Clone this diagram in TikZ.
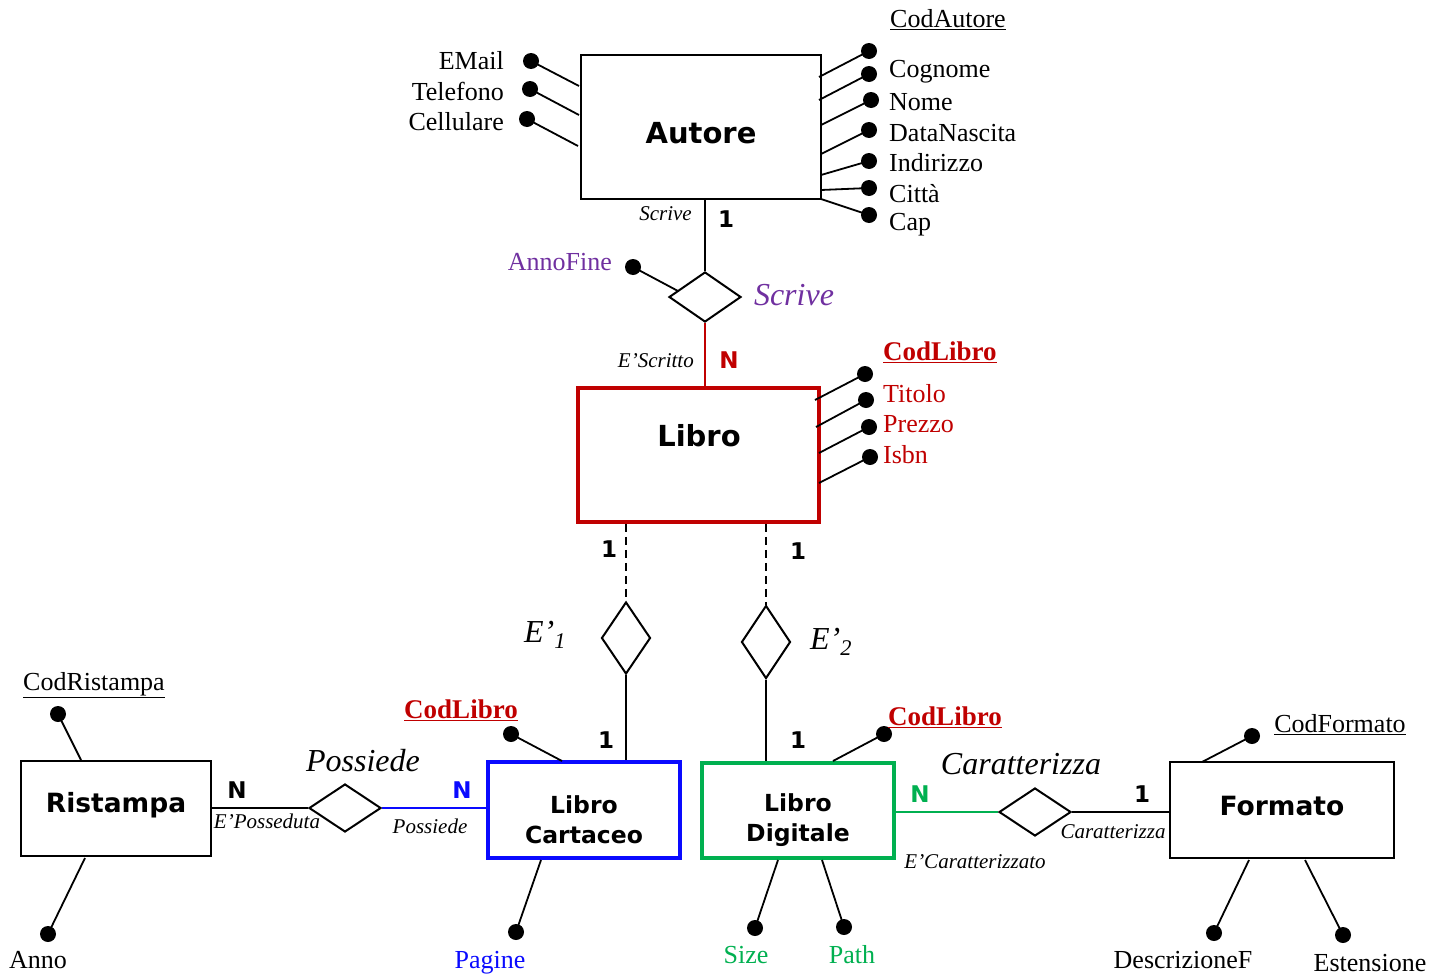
\documentclass[tikz,border=0pt]{standalone}
\usepackage{fontspec}
\setmainfont{Liberation Serif}
\newfontfamily\sansb{DejaVu Sans}
\usetikzlibrary{shapes.geometric}
\definecolor{cred}{HTML}{C00000}
\definecolor{cblue}{HTML}{0A0AFF}
\definecolor{cgreen}{HTML}{00B050}
\definecolor{cpurple}{HTML}{7030A0}
\tikzset{
 ln/.style={line width=1.8pt},
 dot/.style={circle,fill=black,inner sep=0pt,minimum size=16pt},
 ent/.style={draw,line width=2pt,inner sep=0pt},
 rel/.style={diamond,draw,line width=2pt,inner sep=0pt},
 attr/.style={font=\fontsize{26}{26}\selectfont,inner sep=0pt},
 keyred/.style={font=\bfseries\fontsize{27}{27}\selectfont,inner sep=0pt,cred},
 card/.style={font=\sansb\bfseries\fontsize{23}{23}\selectfont,inner sep=0pt},
 role/.style={font=\itshape\fontsize{21}{21}\selectfont,inner sep=0pt},
 relname/.style={font=\itshape\fontsize{32}{32}\selectfont,inner sep=0pt},
 entname/.style={font=\sansb\bfseries\fontsize{29}{31}\selectfont,inner sep=0pt,align=center},
 entname3/.style={font=\sansb\bfseries\fontsize{26.5}{30}\selectfont,inner sep=0pt,align=center},
 entname2/.style={font=\sansb\bfseries\fontsize{23.5}{30}\selectfont,inner sep=0pt,align=center},
}
\begin{document}
\begin{tikzpicture}[x=1pt,y=-1pt]
\useasboundingbox (0,0) rectangle (1443,977);
% ---------- entities ----------
\node[ent,minimum width=240pt,minimum height=144pt] (autore) at (701,127) {};
\node[entname] (autoreL) at (701,133) {Autore};
\node[ent,draw=cred,line width=3.5pt,minimum width=241pt,minimum height=134pt] (libro) at (698.5,455) {};
\node[entname] (libroL) at (699,436) {Libro};
\node[ent,draw=cblue,line width=3.5pt,minimum width=192pt,minimum height=96pt] (cart) at (584,810) {};
\node[entname2] (cartL) at (584,820) {Libro\\Cartaceo};
\node[ent,draw=cgreen,line width=3.5pt,minimum width=192pt,minimum height=95pt] (dig) at (798,810.5) {};
\node[entname2] (digL) at (798,820) {Libro\\Digitale};
\node[ent,minimum width=190pt,minimum height=95pt] (rist) at (116,808.5) {};
\node[entname3] (ristL) at (116,805) {Ristampa};
\node[ent,minimum width=224pt,minimum height=96pt] (form) at (1282,810) {};
\node[entname3] (formL) at (1282,806) {Formato};
% ---------- relationships ----------
\node[rel,minimum width=72pt,minimum height=50pt] (scr) at (705,297) {};
\node[rel,minimum width=49pt,minimum height=72pt] (e1) at (626,638) {};
\node[rel,minimum width=49pt,minimum height=73pt] (e2) at (766,642) {};
\node[rel,minimum width=72pt,minimum height=48pt] (poss) at (345,808) {};
\node[rel,minimum width=72pt,minimum height=48pt] (car) at (1035,812) {};
% ---------- connectors ----------
\draw[ln] (scr.north |- autore.south) -- (scr.north);
\draw[ln,cred] (scr.south) -- (scr.south |- libro.north);
\draw[ln,dashed,dash pattern=on 8pt off 5pt] (e1.north |- libro.south) -- (e1.north);
\draw[ln] (e1.south) -- (e1.south |- cart.north);
\draw[ln,dashed,dash pattern=on 8pt off 5pt] (e2.north |- libro.south) -- (e2.north);
\draw[ln] (e2.south) -- (e2.south |- dig.north);
\draw[ln] (poss.west -| rist.east) -- (poss.west);
\draw[ln,cblue] (poss.east) -- (poss.east -| cart.west);
\draw[ln,cgreen] (car.west -| dig.east) -- (car.west);
\draw[ln] (car.east) -- (car.east -| form.west);
% ---------- attribute dots and links ----------
\foreach \n/\dx/\dy/\ex/\ey in {aEm/531/61/579/86, aTe/530/89/579/115, aCe/527/119/578/146,
  aCo/869/51/819/77, aCg/869/74/819/100, aNo/871/100/821/125, aDN/869/130/821/154,
  aIn/869/161/821/175, aCi/869/188/821/190, aCa/869/215/821/199,
  aAF/633/267/678/291,
  lCo/865/374/815/400, lTi/866/400/816/427, lPr/869/427/819/453, lIs/870/457/819/483,
  cCo/511/734/562/761, cPa/516/932/541/860,
  dCo/884/734/833/761, dSi/755/928/778/860, dPa/844/927/822/860,
  rCo/58/714/81/760, rAn/48/934/85/858,
  fCo/1252/736/1202/762, fDe/1214/933/1249/860, fEs/1343/935/1305/860}
{
  \node[dot] (\n) at (\dx,\dy) {};
  \coordinate (\n e) at (\ex,\ey);
  \draw[ln] (\n.center) -- (\n e);
}
% ---------- attribute labels ----------
\node[attr,anchor=east] (tEm) at (504,61) {EMail};
\node[attr,anchor=east] (tTe) at (504,91) {Telefono};
\node[attr,anchor=east] (tCe) at (504,122) {Cellulare};
\node[attr,anchor=west] (tCo) at (890,20) {\underline{CodAutore}};
\node[attr,anchor=west] (tCg) at (889,72) {Cognome};
\node[attr,anchor=west] (tNo) at (889,102) {Nome};
\node[attr,anchor=west] (tDN) at (889,133) {DataNascita};
\node[attr,anchor=west] (tIn) at (889,163) {Indirizzo};
\node[attr,anchor=west] (tCi) at (889,194) {Città};
\node[attr,anchor=west] (tCa) at (889,225) {Cap};
\node[attr,anchor=east,cpurple] (tAF) at (612,262) {AnnoFine};
\node[keyred,anchor=west] (tLC) at (883,352) {\underline{CodLibro}};
\node[attr,anchor=west,cred] (tTi) at (883,394) {Titolo};
\node[attr,anchor=west,cred] (tPr) at (883,424) {Prezzo};
\node[attr,anchor=west,cred] (tIs) at (883,455) {Isbn};
\node[keyred] (tCC) at (461,710) {\underline{CodLibro}};
\node[attr,cblue] (tPa) at (490,963) {Pagine};
\node[keyred] (tDC) at (945,717) {\underline{CodLibro}};
\node[attr,cgreen] (tSi) at (746,955) {Size};
\node[attr,cgreen] (tPh) at (852,955) {Path};
\node[attr] (tRC) at (94,685) {\underline{CodRistampa}};
\node[attr] (tAn) at (38,960) {Anno};
\node[attr] (tFC) at (1340,725) {\underline{CodFormato}};
\node[attr] (tDe) at (1183,960) {DescrizioneF};
\node[attr] (tEs) at (1370,963) {Estensione};
% ---------- relationship names, roles, cardinalities ----------
\node[relname,cpurple] (nScr) at (794,295) {Scrive};
\node[relname] (nE1) at (545,635) {E’\textsubscript{1}};
\node[relname] (nE2) at (831,642) {E’\textsubscript{2}};
\node[relname] (nPo) at (363,761) {Possiede};
\node[relname] (nCa) at (1021,764) {Caratterizza};
\node[role,anchor=east] (rScr) at (692,214) {Scrive};
\node[role,anchor=east] (rESc) at (694,361) {E’Scritto};
\node[role] (rEPo) at (267,821) {E’Posseduta};
\node[role] (rPo) at (430,826) {Possiede};
\node[role] (rCa) at (1113,832) {Caratterizza};
\node[role] (rECa) at (975,862) {E’Caratterizzato};
\node[card] (k1) at (726,219) {1};
\node[card,cred] (k2) at (729,360) {N};
\node[card] (k3) at (609,549) {1};
\node[card] (k4) at (798,551) {1};
\node[card] (k5) at (606,740) {1};
\node[card] (k6) at (798,740) {1};
\node[card] (k7) at (237,790) {N};
\node[card,cblue] (k8) at (462,790) {N};
\node[card,cgreen] (k9) at (920,794) {N};
\node[card] (k10) at (1142,794) {1};
\end{tikzpicture}
\end{document}
